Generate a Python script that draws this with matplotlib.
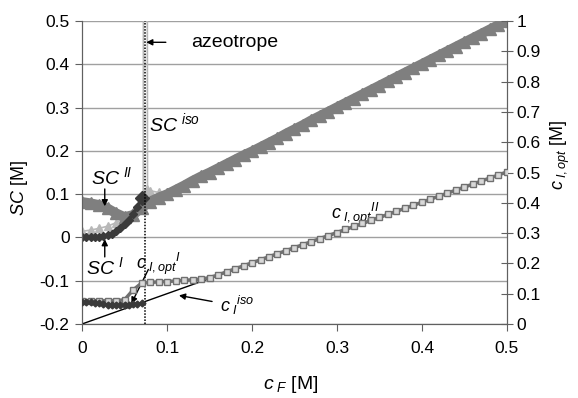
import numpy as np
import matplotlib
matplotlib.use('Agg')
import matplotlib.pyplot as plt
from matplotlib.ticker import FuncFormatter

plt.rcParams['font.family'] = ['Liberation Sans', 'DejaVu Sans']
plt.rcParams['mathtext.fontset'] = 'custom'
plt.rcParams['mathtext.it'] = 'Liberation Sans:italic'
plt.rcParams['mathtext.rm'] = 'Liberation Sans'
plt.rcParams['axes.unicode_minus'] = False

# feed concentration grid [M]
c_F = [0.00, 0.01, 0.02, 0.03, 0.04, 0.05, 0.06, 0.07, 0.08, 0.09,
       0.10, 0.11, 0.12, 0.13, 0.14, 0.15, 0.16, 0.17, 0.18, 0.19,
       0.20, 0.21, 0.22, 0.23, 0.24, 0.25, 0.26, 0.27, 0.28, 0.29,
       0.30, 0.31, 0.32, 0.33, 0.34, 0.35, 0.36, 0.37, 0.38, 0.39,
       0.40, 0.41, 0.42, 0.43, 0.44, 0.45, 0.46, 0.47, 0.48, 0.49, 0.50]

# SC^II (left axis)
SC_II = [0.082, 0.079, 0.075, 0.067, 0.056, 0.047, 0.052, 0.068, 0.083, 0.092,
         0.100, 0.110, 0.120, 0.131, 0.141, 0.150, 0.160, 0.170, 0.180, 0.190,
         0.199, 0.209, 0.219, 0.229, 0.240, 0.250, 0.260, 0.271, 0.281, 0.291,
         0.301, 0.311, 0.321, 0.331, 0.341, 0.351, 0.361, 0.371, 0.381, 0.391,
         0.401, 0.411, 0.421, 0.431, 0.441, 0.451, 0.461, 0.471, 0.481, 0.491, 0.501]

# c_I,opt^II (right axis)
c_opt_II = [0.077, 0.077, 0.077, 0.077, 0.077, 0.080, 0.112, 0.135, 0.137, 0.139,
            0.140, 0.142, 0.144, 0.146, 0.148, 0.153, 0.162, 0.172, 0.182, 0.192,
            0.202, 0.212, 0.222, 0.232, 0.242, 0.252, 0.262, 0.272, 0.282, 0.292,
            0.302, 0.312, 0.322, 0.332, 0.342, 0.352, 0.362, 0.372, 0.382, 0.392,
            0.402, 0.412, 0.422, 0.432, 0.442, 0.452, 0.462, 0.472, 0.482, 0.492, 0.502]

# low-concentration branch (region I)
c_low = [0.000, 0.005, 0.010, 0.015, 0.020, 0.025, 0.030, 0.035,
         0.040, 0.045, 0.050, 0.055, 0.060, 0.065, 0.070]
SC_I = [0.000, 0.000, 0.000, 0.000, 0.001, 0.003, 0.005, 0.009,
        0.014, 0.021, 0.030, 0.041, 0.054, 0.070, 0.092]
c_opt_I = [0.073, 0.073, 0.072, 0.070, 0.068, 0.066, 0.064, 0.063,
           0.062, 0.062, 0.062, 0.063, 0.065, 0.067, 0.069]

# SC^iso with the spike at the azeotrope
c_iso = [0.00, 0.01, 0.02, 0.03, 0.04, 0.05, 0.06, 0.065, 0.07,
         0.072, 0.0735, 0.0755, 0.077, 0.08, 0.09, 0.10]
SC_iso = [0.014, 0.017, 0.021, 0.026, 0.034, 0.046, 0.058, 0.066, 0.080,
          0.095, 3.0, 3.0, 0.112, 0.108, 0.104, 0.106]
iso_marks = [0, 1, 2, 3, 4, 5, 6, 7, 8, 12, 13, 14, 15]

# c_I^iso line (right axis)
c_iso_line_x = [0.0, 0.5]
c_iso_line_y = [0.0, 0.5]

azeotrope = 0.0745

fig = plt.figure(figsize=(5.78, 3.98), dpi=100)
ax = fig.add_axes([0.142, 0.186, 0.735, 0.761])
ax2 = ax.twinx()

ax.set_xlim(0, 0.5)
ax.set_ylim(-0.2, 0.5)
ax2.set_ylim(0, 1)
ax.set_yticks(np.arange(-0.2, 0.51, 0.1))
ax2.set_yticks(np.arange(0, 1.01, 0.1))
ax.set_xticks(np.arange(0, 0.51, 0.1))
fmt = FuncFormatter(lambda v, p: f'{round(v, 2):g}')
ax.xaxis.set_major_formatter(fmt)
ax.yaxis.set_major_formatter(fmt)
ax2.yaxis.set_major_formatter(fmt)

ax.yaxis.grid(True, color='#a0a0a0', lw=1)
ax.set_axisbelow(True)
for a in (ax, ax2):
    a.spines['top'].set_visible(False)
    for s in ('left', 'bottom', 'right'):
        a.spines[s].set_color('#606060')
ax.tick_params(axis='both', colors='#606060', labelcolor='black', labelsize=12.5, length=5)
ax2.tick_params(axis='y', colors='#606060', labelcolor='black', labelsize=12.5,
                direction='inout', length=8, pad=3)
ax.tick_params(axis='x', pad=7)
ax.tick_params(axis='y', pad=4)

# azeotrope
ax.plot([azeotrope, azeotrope], [-0.2, 0.5], color='black', ls=(0, (1, 1)), lw=1.1, zorder=5)

# SC curves (left axis)
ax.plot(c_iso, SC_iso, color='#b8b8b8', lw=1.2, marker='^', ms=6,
        markevery=iso_marks, zorder=2)
ax.plot(c_F, SC_II, color='#7f7f7f', lw=7, marker='^', ms=8, zorder=3)
ax.plot(c_low, SC_I, color='#3a3a3a', lw=2.5, marker='D', ms=4.5, zorder=4)
ax.plot(c_low[-1], SC_I[-1], color='#3a3a3a', marker='D', ms=7, zorder=4)

# concentrations (right axis)
ax2.plot(c_iso_line_x, c_iso_line_y, color='black', lw=1, zorder=2)
ax2.plot(c_F, c_opt_II, color='#707070', lw=2.5, marker='s', ms=4.5,
         mfc='#d8d8d8', mec='#707070', mew=1, zorder=3)
ax2.plot(c_low, c_opt_I, color='#3a3a3a', lw=1.5, marker='D', ms=3.5, zorder=4)

# labels
ax.set_xlabel(r'$c_{\ F}$ [M]', fontsize=14)
ax.xaxis.set_label_coords(0.49, -0.165)
ax.set_ylabel(r'$SC$ [M]', fontsize=13)
ax.yaxis.set_label_coords(-0.122, 0.45)
ax2.set_ylabel(r'$c_{\ I,opt}$ [M]', fontsize=13, rotation=90)
ax2.yaxis.set_label_coords(1.098, 0.56)

arrow = dict(arrowstyle='-|>', color='black', lw=1, mutation_scale=9, shrinkA=0, shrinkB=0)
ax.annotate('azeotrope', xy=(azeotrope + 0.001, 0.451), xytext=(0.128, 0.451),
            fontsize=14, va='center', ha='left', arrowprops=dict(arrow, shrinkA=16))
ax.text(0.079, 0.265, r'$SC^{\ iso}$', fontsize=14, va='center')
ax.text(0.010, 0.14, r'$SC^{\ II}$', fontsize=14, va='center')
ax.annotate('', xy=(0.0267, 0.072), xytext=(0.0267, 0.112), arrowprops=arrow)
ax.text(0.005, -0.068, r'$SC^{\ I}$', fontsize=14, va='center')
ax.annotate('', xy=(0.0267, -0.004), xytext=(0.0267, -0.045), arrowprops=arrow)
ax.text(0.064, -0.06, r'$c_{\ I,opt}{}^{I}$', fontsize=13, va='center')
ax.annotate('', xy=(0.058, -0.153), xytext=(0.078, -0.074), arrowprops=arrow)
ax.text(0.162, -0.158, r'$c_{\ I}{}^{iso}$', fontsize=13, va='center')
ax.annotate('', xy=(0.114, -0.134), xytext=(0.153, -0.148), arrowprops=arrow)
ax.text(0.293, 0.055, r'$c_{\ I,opt}{}^{II}$', fontsize=13, va='center')

fig.savefig('out.png', dpi=100)
